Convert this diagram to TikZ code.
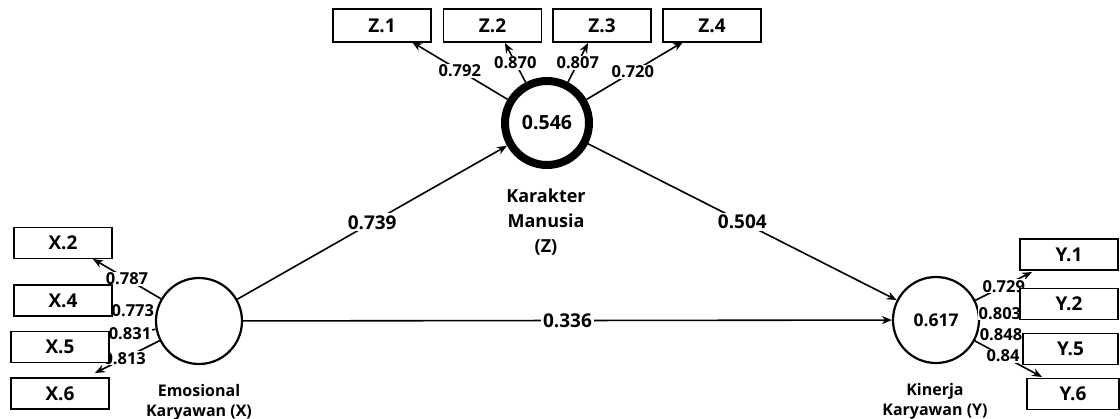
\documentclass[tikz,border=0pt]{standalone}
\usepackage{fontspec}
\setmainfont{Open Sans}
\usetikzlibrary{arrows.meta}
\newcommand\fz[2]{\fontsize{#1}{#2}\selectfont\bfseries}
\begin{document}
\begin{tikzpicture}[x=1pt,y=-1pt,
  lv/.style={circle, draw, line width=2.2pt, minimum size=86pt, inner sep=0pt, fill=white},
  ind/.style={rectangle, draw, line width=1.8pt, fill=white, minimum width=98pt, minimum height=31pt, inner sep=0pt, font=\fz{19}{20}},
  arr/.style={line width=1.6pt, -{Stealth[length=10pt,width=8pt]}},
  lab/.style={fill=white, inner sep=1pt, font=\fz{16.5}{18}},
  plab/.style={fill=white, inner sep=2pt, font=\fz{19}{20}},
  nm/.style={align=center}
]
\useasboundingbox (0,0) rectangle (1120,418);
% latent variables
\node[lv] (X) at (199,321) {};
\node[lv, font=\fz{17.5}{18}] (Y) at (936,320) {0.617};
\node[lv, line width=8pt, minimum size=84pt, font=\fz{19.5}{20}] (Z) at (547,123) {0.546};
% names
\node[nm, font=\fz{18}{25}] (zname) at (546,222) {Karakter\\Manusia\\(Z)};
\node[nm, font=\fz{16}{20}] (xname) at (199,402) {Emosional\\Karyawan (X)};
\node[nm, font=\fz{16}{20}] (yname) at (935,401) {Kinerja\\Karyawan (Y)};
% tip coordinates
\coordinate (tz1) at (412,42);
\coordinate (tz2) at (505,43);
\coordinate (tz3) at (588,43);
\coordinate (tz4) at (683,42);
\coordinate (tx2) at (93,259);
\coordinate (tx4) at (112,308);
\coordinate (tx5) at (109,338);
\coordinate (tx6) at (95,373);
\coordinate (ty1) at (1032,272);
\coordinate (ty2) at (1020,311);
\coordinate (ty5) at (1023,340);
\coordinate (ty6) at (1042,377);
% outer loadings
\draw[arr] (Z) -- (tz1) node[lab, pos=0.5] (lz1) {0.792};
\draw[arr] (Z) -- (tz2) node[lab, pos=0.5] (lz2) {0.870};
\draw[arr] (Z) -- (tz3) node[lab, pos=0.49] (lz3) {0.807};
\draw[arr] (Z) -- (tz4) node[lab, pos=0.48] (lz4) {0.720};
\draw[arr] (X) -- (tx2) node[lab, pos=0.5] (lx2) {0.787};
\draw[arr] (X) -- (tx4) node[lab, pos=0.52] (lx4) {0.773};
\draw[arr] (X) -- (tx5) node[lab, pos=0.55] (lx5) {0.831};
\draw[arr] (X) -- (tx6) node[lab, pos=0.54] (lx6) {0.813};
\draw[arr] (Y) -- (ty1) node[lab, pos=0.5] (ly1) {0.729};
\draw[arr] (Y) -- (ty2) node[lab, pos=0.5] (ly2) {0.803};
\draw[arr] (Y) -- (ty5) node[lab, pos=0.5] (ly5) {0.848};
\draw[arr] (Y) -- (ty6) node[lab, pos=0.42] (ly6) {0.84};
% indicators
\node[ind, minimum height=33pt] (z1) at (382,25.5) {Z.1};
\node[ind, minimum height=33pt] (z2) at (492.5,25.5) {Z.2};
\node[ind, minimum height=33pt] (z3) at (602,25.5) {Z.3};
\node[ind, minimum height=33pt] (z4) at (712,25.5) {Z.4};
\node[ind] (x2) at (63,243) {X.2};
\node[ind] (x4) at (63,300.5) {X.4};
\node[ind] (x5) at (60,347) {X.5};
\node[ind] (x6) at (60,393.5) {X.6};
\node[ind] (y1) at (1069,254.5) {Y.1};
\node[ind] (y2) at (1069,304) {Y.2};
\node[ind, minimum width=95pt] (y5) at (1070.5,349) {Y.5};
\node[ind, minimum width=92pt] (y6) at (1073,394) {Y.6};
% structural paths
\draw[arr] (X) -- (Z) node[plab, midway] (pxz) {0.739};
\draw[arr] (Z) -- (Y) node[plab, midway] (pzy) {0.504};
\draw[arr] (X) -- (Y) node[plab, midway] (pxy) {0.336};
\end{tikzpicture}
\end{document}
